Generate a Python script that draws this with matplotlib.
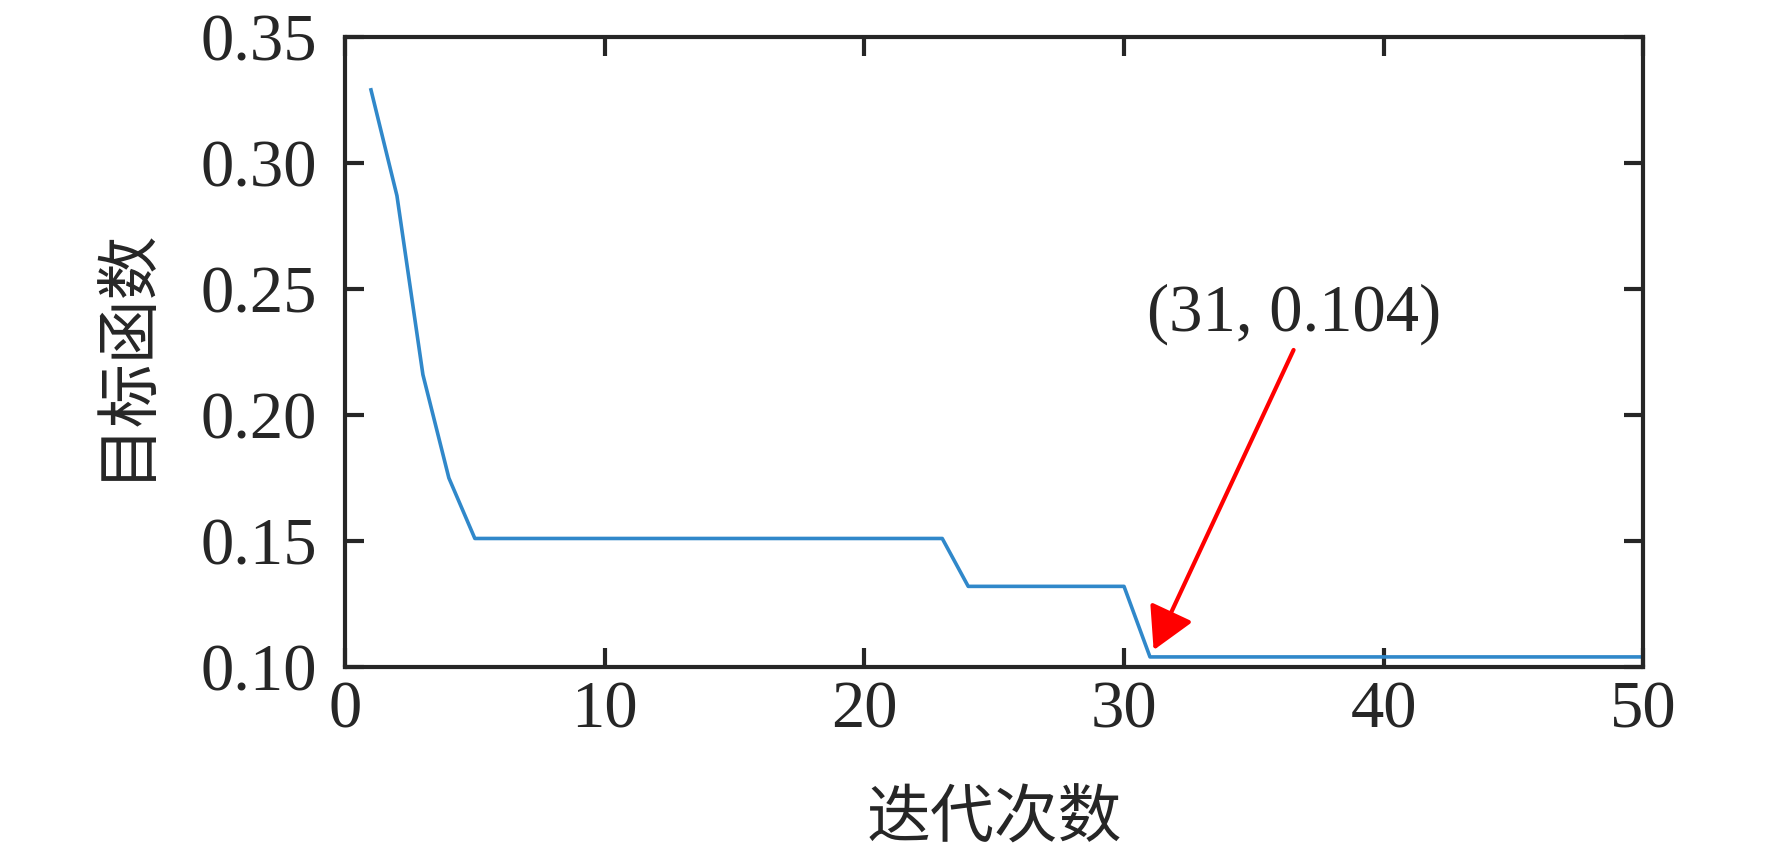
import matplotlib
matplotlib.use("Agg")
import matplotlib.pyplot as plt
from matplotlib.patches import FancyArrowPatch

plt.rcParams['font.family'] = ['Liberation Serif', 'Noto Sans CJK SC']

# iteration history of the objective
iterations = list(range(1, 51))
objective = ([0.329, 0.287, 0.216, 0.175]
             + [0.151] * 19      # 5..23
             + [0.132] * 7       # 24..30
             + [0.104] * 20)     # 31..50

best_point = (31, 0.104)
label_text = "(31, 0.104)"

x_ticks = [0, 10, 20, 30, 40, 50]
y_ticks = [0.10, 0.15, 0.20, 0.25, 0.30, 0.35]

fig = plt.figure(figsize=(17.72, 8.59), dpi=100)
ax = fig.add_axes([0.1947, 0.2235, 0.7327, 0.7335])

ax.plot(iterations, objective, color='#3088ca', linewidth=2.6)

ax.set_xlim(0, 50)
ax.set_ylim(0.10, 0.35)
ax.set_xticks(x_ticks)
ax.set_yticks(y_ticks)
ax.set_yticklabels([f"{v:.2f}" for v in y_ticks])

ax.tick_params(direction='in', top=True, right=True, length=14, width=3,
               color='#262626', labelsize=48, labelcolor='#262626')
ax.tick_params(axis='x', pad=10)
ax.tick_params(axis='y', pad=20)
for sp in ax.spines.values():
    sp.set_linewidth(3)
    sp.set_color('#262626')

ax.set_xlabel('迭代次数', fontsize=46, color='#262626', labelpad=36)
ax.set_ylabel('目标函数', fontsize=46, color='#262626')
ax.yaxis.set_label_coords(-0.146, 0.5)

# annotation of the best value
ax.text(30.9, 0.2337, label_text, fontsize=48, color='#262626',
        ha='left', va='baseline')
arrow = FancyArrowPatch((36.53, 0.2258), (31.14, 0.1067),
                        arrowstyle='-|>,head_length=1.8,head_width=1.0',
                        mutation_scale=14.4, color='red', linewidth=3,
                        shrinkA=0, shrinkB=0)
ax.add_patch(arrow)

fig.savefig('out.png', dpi=100)
